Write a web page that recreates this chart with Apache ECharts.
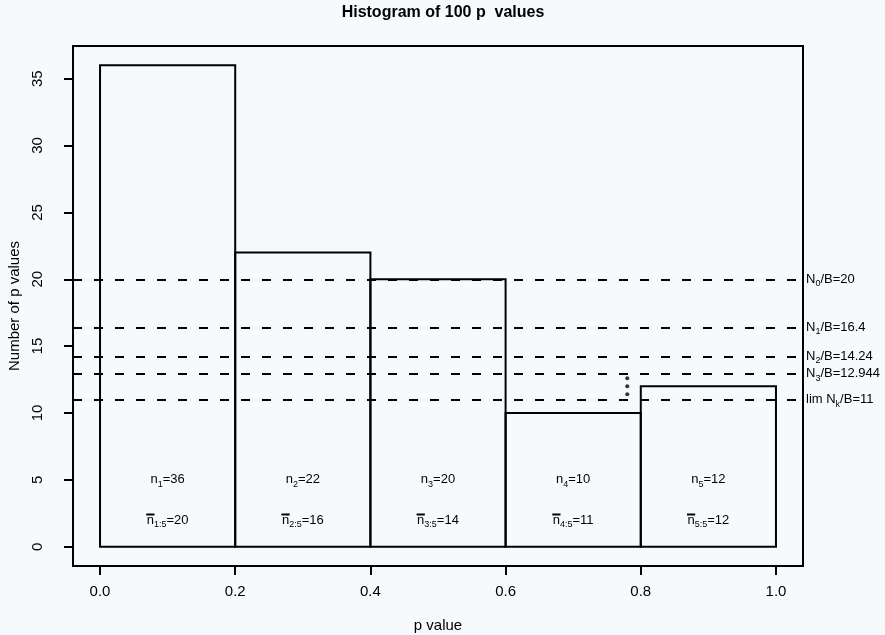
<!DOCTYPE html>
<html>
<head>
<meta charset="utf-8">
<script src="https://cdn.jsdelivr.net/npm/echarts@6/dist/echarts.min.js"></script>
<style>
html,body{margin:0;padding:0;background:#f7fafc;}
#chart{width:885px;height:635px;}
</style>
</head>
<body>
<div id="chart"></div>
<script>
// ---- data ----
const breaks = [0.0, 0.2, 0.4, 0.6, 0.8, 1.0];
const counts = [36, 22, 20, 10, 12];
const tailMeans = [20, 16, 14, 11, 12];
const refValues = [20, 16.4, 14.24, 12.944, 11];
const refSubs = ['0', '1', '2', '3', 'k'];
const xTicks = [0.0, 0.2, 0.4, 0.6, 0.8, 1.0];
const yTicks = [0, 5, 10, 15, 20, 25, 30, 35];
const dotsX = [0.78, 0.78, 0.78];
const dotsY = [12.6, 12.0, 11.4];
const titleText = 'Histogram of 100 p  values';
const xName = 'p value';
const yName = 'Number of p values';

const FONT = 'Liberation Sans, Arial, Helvetica, sans-serif';
const MAIN = 13, SUB = 9;
const richStyles = {
  t: {fontSize: MAIN, fontFamily: FONT, color: '#000', lineHeight: 18, verticalAlign: 'middle'},
  s: {fontSize: SUB, fontFamily: FONT, color: '#000', lineHeight: 9, verticalAlign: 'bottom'}
};

const measureCtx = document.createElement('canvas').getContext('2d');
function tw(str, size) {
  measureCtx.font = size + 'px ' + FONT;
  return measureCtx.measureText(str).width;
}

const barData = counts.map((c, i) => [breaks[i], breaks[i + 1], c]);
const mids = counts.map((c, i) => (breaks[i] + breaks[i + 1]) / 2);
const labelData = mids.map((m, i) => [m, counts[i], tailMeans[i]]);

const chart = echarts.init(document.getElementById('chart'), null, {renderer: 'canvas'});
const option = {
  backgroundColor: '#f7fafc',
  animation: false,
  title: {
    text: titleText, left: 438, top: 0, textAlign: 'center',
    textStyle: {fontFamily: FONT, fontSize: 16, fontWeight: 'bold', color: '#000'}
  },
  grid: {
    left: 73, right: 82, top: 46, bottom: 69,
    outerBoundsMode: 'none', containLabel: false,
    show: true, borderColor: '#000', borderWidth: 2, backgroundColor: 'transparent'
  },
  xAxis: {
    type: 'value', min: -0.04, max: 1.04,
    name: xName, nameLocation: 'middle', nameGap: 52,
    nameTextStyle: {fontFamily: FONT, fontSize: 15, color: '#000'},
    axisLine: {show: false, onZero: false},
    splitLine: {show: false},
    axisTick: {show: true, customValues: xTicks, length: 9, inside: false, lineStyle: {color: '#000', width: 2}},
    axisLabel: {customValues: xTicks, margin: 18, fontFamily: FONT, fontSize: 15, color: '#000',
      formatter: v => v.toFixed(1)}
  },
  yAxis: {
    type: 'value', min: -1.44, max: 37.44,
    name: yName, nameLocation: 'middle', nameGap: 44,
    nameTextStyle: {fontFamily: FONT, fontSize: 15, color: '#000'},
    axisLine: {show: false, onZero: false},
    splitLine: {show: false},
    axisTick: {show: true, customValues: yTicks, length: 9, inside: false, lineStyle: {color: '#000', width: 2}},
    axisLabel: {customValues: yTicks, rotate: 90, margin: 28, fontFamily: FONT, fontSize: 15, color: '#000'}
  },
  series: [
    {
      type: 'custom',
      data: barData,
      renderItem: function (params, api) {
        const p0 = api.coord([api.value(0), api.value(2)]);
        const p1 = api.coord([api.value(1), 0]);
        return {
          type: 'rect',
          shape: {x: p0[0], y: p0[1], width: p1[0] - p0[0], height: p1[1] - p0[1]},
          style: {fill: 'none', stroke: '#000', lineWidth: 2}
        };
      },
      markLine: {
        silent: true,
        symbol: ['none', 'none'],
        lineStyle: {color: '#000', type: [9, 12], width: 1.8},
        label: {
          show: true, position: 'end', distance: 3,
          formatter: function (p) {
            const i = p.dataIndex;
            const pre = refSubs[i] === 'k' ? 'lim N' : 'N';
            return '{t|' + pre + '}{s|' + refSubs[i] + '}{t|/B=' + refValues[i] + '}';
          },
          rich: richStyles
        },
        data: refValues.map(v => ({yAxis: v}))
      }
    },
    {
      type: 'custom',
      data: labelData,
      silent: true,
      renderItem: function (params, api) {
        const i = params.dataIndex;
        const m = api.value(0);
        const cnt = api.value(1);
        const mean = api.value(2);
        const a = api.coord([m, 5]);
        const b = api.coord([m, 2]);
        const sub2 = (i + 1) + ':5';
        const rest2 = '=' + mean;
        const w2 = tw('n', MAIN) + tw(sub2, SUB) + tw(rest2, MAIN);
        const nx = b[0] - w2 / 2;
        const nw = tw('n', MAIN);
        return {
          type: 'group',
          children: [
            {
              type: 'text',
              style: {
                text: '{t|n}{s|' + (i + 1) + '}{t|=' + cnt + '}',
                x: a[0], y: a[1], align: 'center', verticalAlign: 'middle', rich: richStyles
              }
            },
            {
              type: 'text',
              style: {
                text: '{t|n}{s|' + sub2 + '}{t|' + rest2 + '}',
                x: b[0], y: b[1], align: 'center', verticalAlign: 'middle', rich: richStyles
              }
            },
            {
              type: 'rect',
              shape: {x: nx - 0.5, y: b[1] - 6.5, width: nw + 1, height: 2},
              style: {fill: '#000'}
            }
          ]
        };
      }
    },
    {
      type: 'scatter',
      data: dotsX.map((x, i) => [x, dotsY[i]]),
      symbol: 'circle',
      symbolSize: 4,
      itemStyle: {color: '#000'}
    }
  ]
};
chart.setOption(option);
</script>
</body>
</html>
